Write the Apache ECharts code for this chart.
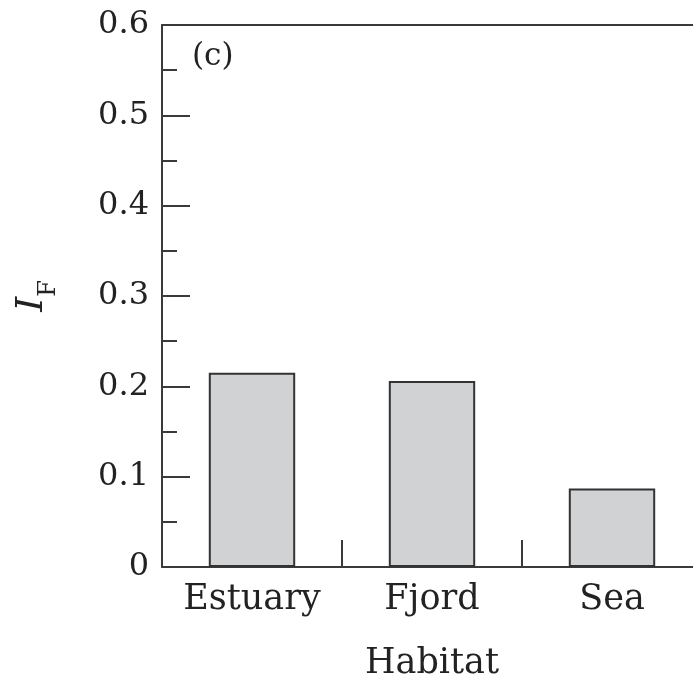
<!DOCTYPE html>
<html>
<head>
<meta charset="utf-8">
<script src="https://cdn.jsdelivr.net/npm/echarts@6/dist/echarts.min.js"></script>
<style>html,body{margin:0;padding:0;background:#fff;}#c{width:693px;height:681px;}</style>
</head>
<body>
<div id="c"></div>
<script>
const categories = ['Estuary', 'Fjord', 'Sea'];
const values = [0.215, 0.206, 0.087];
const yTicks = [0, 0.1, 0.2, 0.3, 0.4, 0.5, 0.6];
const panelLabel = '(c)';
const xName = 'Habitat';

const FONT = 'DejaVu Serif';
const AX = '#3a3a3a';
const chart = echarts.init(document.getElementById('c'), null, {renderer: 'canvas'});
chart.setOption({
  animation: false,
  backgroundColor: '#fff',
  title: {
    text: panelLabel, left: 187, top: 36,
    textStyle: {fontFamily: FONT, fontSize: 31, fontWeight: 'normal', color: '#222'}
  },
  grid: {left: 162, top: 25, width: 540, height: 542, containLabel: false, outerBoundsMode: 'none'},
  xAxis: [{
    type: 'category', data: categories, position: 'bottom',
    axisLine: {lineStyle: {color: AX, width: 2}},
    axisTick: {show: true, inside: true, length: 27, lineStyle: {color: AX, width: 2}},
    axisLabel: {fontFamily: FONT, fontSize: 35, color: '#222', margin: 15, interval: 0},
    name: xName, nameLocation: 'middle', nameGap: 79,
    nameTextStyle: {fontFamily: FONT, fontSize: 35, color: '#222'}
  }, {
    type: 'category', data: categories, position: 'top',
    axisLine: {lineStyle: {color: AX, width: 2}},
    axisTick: {show: false}, axisLabel: {show: false}
  }],
  yAxis: {
    type: 'value', min: 0, max: 0.6, interval: 0.1,
    axisLine: {show: true, lineStyle: {color: AX, width: 2}},
    axisTick: {show: true, inside: true, length: 28, lineStyle: {color: AX, width: 2}},
    minorTick: {show: true, splitNumber: 2, length: 15, lineStyle: {color: AX, width: 2}},
    splitLine: {show: false},
    axisLabel: {fontFamily: FONT, fontSize: 32, color: '#222', margin: 13,
      formatter: v => (yTicks.indexOf(Math.round(v*10)/10) >= 0 ? (v === 0 ? '0' : v.toFixed(1)) : '')},
    name: '{i|I}{s|F}', nameLocation: 'middle', nameGap: 101, nameRotate: 90,
    nameTextStyle: {
      rich: {
        i: {fontFamily: FONT, fontStyle: 'italic', fontSize: 38, color: '#222', lineHeight: 38},
        s: {fontFamily: FONT, fontSize: 24, color: '#222', padding: [34, 0, 0, 0]}
      }
    }
  },
  series: [{
    type: 'bar', data: values, barWidth: '48%', xAxisIndex: 0,
    itemStyle: {color: '#d1d2d4', borderColor: '#333', borderWidth: 2}
  }]
});
</script>
</body>
</html>
